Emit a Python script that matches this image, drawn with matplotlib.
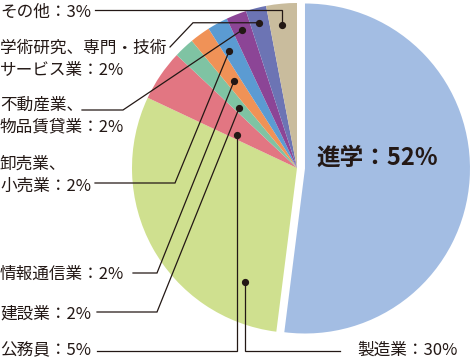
import numpy as np
import matplotlib
matplotlib.use("Agg")
import matplotlib.pyplot as plt

plt.rcParams['font.family'] = ['Noto Sans CJK JP', 'DejaVu Sans']

# -----------------------------
# Data
# -----------------------------
categories = ['進学', '製造業', '公務員', '建設業', '情報通信業',
              '卸売業、\n小売業', '不動産業、\n物品賃貸業',
              '学術研究、専門・技術\nサービス業', 'その他']
values = [52, 30, 5, 2, 2, 2, 2, 2, 3]
colors = ['#a3bde3', '#cfe08f', '#e27682', '#7fc3a3', '#f09257',
          '#5b9bd2', '#8c4596', '#6c74b4', '#c9bc9d']

# -----------------------------
# Layout (pixel coords, y down)
# -----------------------------
W, H = 473, 363
cx, cy, R = 297, 168, 165
TXT = '#231815'

# dot placement inside each wedge: (fraction of angular span, fraction of radius)
dot_spot = [None, (0.84, 0.76), (0.79, 0.415), (0.61, 0.505), (0.5, 0.65),
            (0.67, 0.82), (0.51, 0.90), (0.54, 0.91), (0.56, 0.87)]
# label anchor (x, y of first line)
label_at = [None, (357, 350), (0, 351), (0, 314), (0, 274),
            (0, 164), (0, 105), (0, 48), (0, 12.5)]

fig = plt.figure(figsize=(W / 100, H / 100), dpi=100)
ax = fig.add_axes([0, 0, 1, 1])

def Y(py):
    return H - py

# explode offset is in data units here (pixels)
explode = [8.0] + [0] * (len(values) - 1)
wedges, _ = ax.pie(values, colors=colors, startangle=90, counterclock=False,
                   center=(cx, Y(cy)), radius=R, explode=explode,
                   wedgeprops=dict(linewidth=0))

ax.set_xlim(0, W)
ax.set_ylim(0, H)
ax.set_aspect('equal')
ax.axis('off')

# dots
dots = {}
for i, w in enumerate(wedges):
    if dot_spot[i] is None:
        continue
    t, rf = dot_spot[i]
    ang = np.radians(w.theta1 + t * (w.theta2 - w.theta1))
    x = w.center[0] + rf * w.r * np.cos(ang)
    y = w.center[1] + rf * w.r * np.sin(ang)
    dots[i] = (x, y)
    ax.plot(x, y, 'o', color=TXT, markersize=4.2, zorder=5)

# leader lines (pixel y-down for elbows)
def leader(pts_px, i, dot_first=False):
    dx, dy = dots[i]
    xs = [p[0] for p in pts_px]
    ys = [Y(p[1]) for p in pts_px]
    if dot_first:
        xs = [dx] + xs
        ys = [dy] + ys
    else:
        xs = xs + [dx]
        ys = ys + [dy]
    ax.plot(xs, ys, color=TXT, linewidth=0.9, zorder=4,
            solid_joinstyle='miter')

d = lambda i: dots[i]
leader([(95, 10), (d(8)[0], 10)], 8)
leader([(170, 47), (193, H - d(7)[1])], 7)
leader([(82, 110), (123, 110)], 6)
leader([(95, 183), (175, 183)], 5)
leader([(133, 273), (157, 273)], 4)
leader([(97, 312), (157, 312)], 3)
leader([(97, 351), (d(2)[0], 351)], 2)
leader([(d(1)[0], 351), (340, 351)], 1, dot_first=True)

# labels
for i, cat in enumerate(categories):
    if label_at[i] is None:
        continue
    txt = f"{cat}：{values[i]}%"
    lx, ly = label_at[i]
    for k, line in enumerate(txt.split('\n')):
        ax.text(lx, Y(ly + k * 22), line, fontsize=12, color=TXT,
                ha='left', va='center')

ax.text(377, Y(158), f"{categories[0]}：{values[0]}%", fontsize=17,
        fontweight='bold', color=TXT, ha='center', va='center')

fig.savefig('out.png', dpi=100)
